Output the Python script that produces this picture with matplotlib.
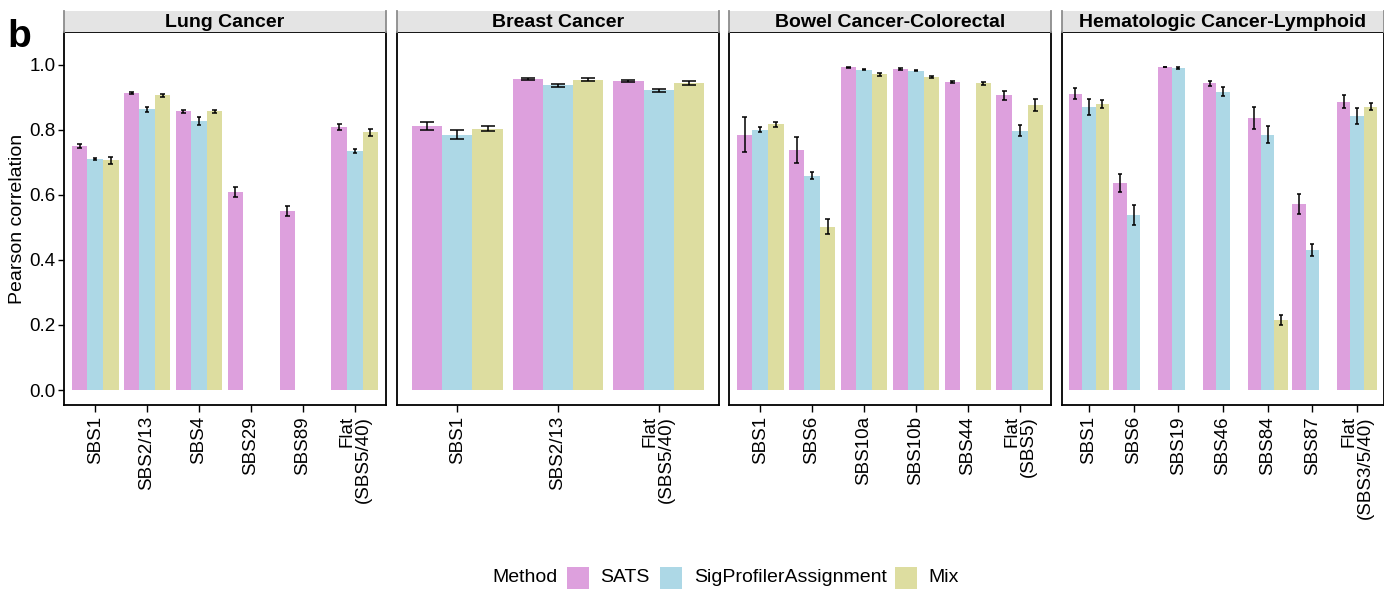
import numpy as np
import matplotlib
matplotlib.use("Agg")
import matplotlib.pyplot as plt
from matplotlib.patches import Rectangle

plt.rcParams['font.family'] = ['Liberation Sans', 'DejaVu Sans']

methods = ["SATS", "SigProfilerAssignment", "Mix"]
colors = ["#DDA0DD", "#ADD8E6", "#DDDDA0"]

panels = ["Lung Cancer", "Breast Cancer", "Bowel Cancer-Colorectal", "Hematologic Cancer-Lymphoid"]

lung_cats = ["SBS1", "SBS2/13", "SBS4", "SBS29", "SBS89", "Flat\n(SBS5/40)"]
lung_sats = [0.750, 0.912, 0.856, 0.608, 0.550, 0.808]
lung_spa = [0.710, 0.862, 0.827, np.nan, np.nan, 0.734]
lung_mix = [0.706, 0.906, 0.856, np.nan, np.nan, 0.792]
lung_sats_err = [0.006, 0.004, 0.004, 0.016, 0.014, 0.008]
lung_spa_err = [0.004, 0.008, 0.013, np.nan, np.nan, 0.005]
lung_mix_err = [0.011, 0.005, 0.004, np.nan, np.nan, 0.011]

breast_cats = ["SBS1", "SBS2/13", "Flat\n(SBS5/40)"]
breast_sats = [0.811, 0.956, 0.948]
breast_spa = [0.784, 0.936, 0.921]
breast_mix = [0.803, 0.954, 0.942]
breast_sats_err = [0.012, 0.002, 0.003]
breast_spa_err = [0.014, 0.004, 0.005]
breast_mix_err = [0.007, 0.004, 0.006]

bowel_cats = ["SBS1", "SBS6", "SBS10a", "SBS10b", "SBS44", "Flat\n(SBS5)"]
bowel_sats = [0.784, 0.737, 0.991, 0.986, 0.947, 0.905]
bowel_spa = [0.800, 0.658, 0.984, 0.981, np.nan, 0.796]
bowel_mix = [0.817, 0.502, 0.970, 0.963, 0.942, 0.876]
bowel_sats_err = [0.054, 0.039, 0.002, 0.002, 0.003, 0.015]
bowel_spa_err = [0.008, 0.011, 0.002, 0.002, np.nan, 0.017]
bowel_mix_err = [0.008, 0.023, 0.005, 0.003, 0.004, 0.019]

hema_cats = ["SBS1", "SBS6", "SBS19", "SBS46", "SBS84", "SBS87", "Flat\n(SBS3/5/40)"]
hema_sats = [0.911, 0.637, 0.993, 0.942, 0.835, 0.571, 0.886]
hema_spa = [0.870, 0.538, 0.989, 0.917, 0.785, 0.431, 0.843]
hema_mix = [0.880, np.nan, np.nan, np.nan, 0.215, np.nan, 0.871]
hema_sats_err = [0.016, 0.028, 0.001, 0.007, 0.034, 0.030, 0.019]
hema_spa_err = [0.025, 0.030, 0.002, 0.015, 0.025, 0.019, 0.025]
hema_mix_err = [0.012, np.nan, np.nan, np.nan, 0.015, np.nan, 0.011]

panel_data = [
    (lung_cats, [lung_sats, lung_spa, lung_mix], [lung_sats_err, lung_spa_err, lung_mix_err]),
    (breast_cats, [breast_sats, breast_spa, breast_mix], [breast_sats_err, breast_spa_err, breast_mix_err]),
    (bowel_cats, [bowel_sats, bowel_spa, bowel_mix], [bowel_sats_err, bowel_spa_err, bowel_mix_err]),
    (hema_cats, [hema_sats, hema_spa, hema_mix], [hema_sats_err, hema_spa_err, hema_mix_err]),
]

W, H = 1384, 590
fig = plt.figure(figsize=(W / 100, H / 100), dpi=100)

panel_left = [64, 397, 729, 1062]
panel_w = 322
top_px, bot_px = 32, 405
strip_top = 11

bw = 0.3
offsets = [-0.3, 0.0, 0.3]
cap_px = 2.6

for i, (title, (cats, vals, errs)) in enumerate(zip(panels, panel_data)):
    l = panel_left[i] / W
    b = 1 - bot_px / H
    h = (bot_px - top_px) / H
    ax = fig.add_axes([l, b, panel_w / W, h])
    x = np.arange(len(cats))
    n_units = len(cats) - 1 + 1.2
    cap = 0.07 if len(cats) <= 3 else 0.045
    for m in range(3):
        v = np.array(vals[m], dtype=float)
        e = np.array(errs[m], dtype=float)
        xs = x + offsets[m]
        ok = ~np.isnan(v)
        ax.bar(xs[ok], v[ok], width=bw, color=colors[m], linewidth=0, zorder=2)
        ax.vlines(xs[ok], v[ok] - e[ok], v[ok] + e[ok], color="black", linewidth=1.1, zorder=3)
        ax.hlines(v[ok] - e[ok], xs[ok] - cap, xs[ok] + cap, color="black", linewidth=1.1, zorder=3)
        ax.hlines(v[ok] + e[ok], xs[ok] - cap, xs[ok] + cap, color="black", linewidth=1.1, zorder=3)
    ax.set_xlim(-0.6, len(cats) - 1 + 0.6)
    ax.set_ylim(-0.046, 1.10)
    ax.set_xticks(x)
    ax.set_xticklabels(cats, rotation=90, ha="center", va="top", multialignment="right",
                       fontsize=13.5, color="black", linespacing=0.95)
    ax.tick_params(axis="x", length=5, width=1, pad=3, color="black")
    if i == 0:
        ax.set_yticks([0.0, 0.2, 0.4, 0.6, 0.8, 1.0])
        ax.set_yticklabels(["0.0", "0.2", "0.4", "0.6", "0.8", "1.0"], fontsize=13.5, color="black")
        ax.tick_params(axis="y", length=4, width=1, pad=2, color="black")
    else:
        ax.set_yticks([])
    for s in ax.spines.values():
        s.set_linewidth(1.3)
        s.set_color("black")

    # strip
    sax = fig.add_axes([l, 1 - top_px / H, panel_w / W, (top_px - strip_top) / H])
    sax.set_facecolor("#E4E4E4")
    sax.set_xticks([])
    sax.set_yticks([])
    sax.spines["top"].set_visible(False)
    sax.spines["bottom"].set_visible(False)
    sax.spines["left"].set_color("#8C8C8C")
    sax.spines["right"].set_color("#8C8C8C")
    sax.spines["left"].set_linewidth(1.3)
    sax.spines["right"].set_linewidth(1.3)
    sax.text(0.5, 0.45, title, ha="center", va="center", fontsize=14, fontweight="bold",
             transform=sax.transAxes)

fig.text(18 / W, 1 - 218.5 / H, "Pearson correlation", rotation=90, ha="center", va="center",
         fontsize=14)
fig.text(7 / W, 1 - 37 / H, "b", ha="left", va="center", fontsize=28, fontweight="bold")

# legend
ly = 1 - 578 / H
fig.text(492 / W, ly, "Method", ha="left", va="center", fontsize=14)
key_x = [567, 660, 895]
lab_x = [600, 694, 928]
ks = 22
for m in range(3):
    fig.add_artist(Rectangle((key_x[m] / W, (H - 578 - ks / 2) / H), ks / W, ks / H,
                             facecolor=colors[m], edgecolor="none", transform=fig.transFigure))
    fig.text(lab_x[m] / W, ly, methods[m], ha="left", va="center", fontsize=14)

fig.savefig("out.png", dpi=100)
